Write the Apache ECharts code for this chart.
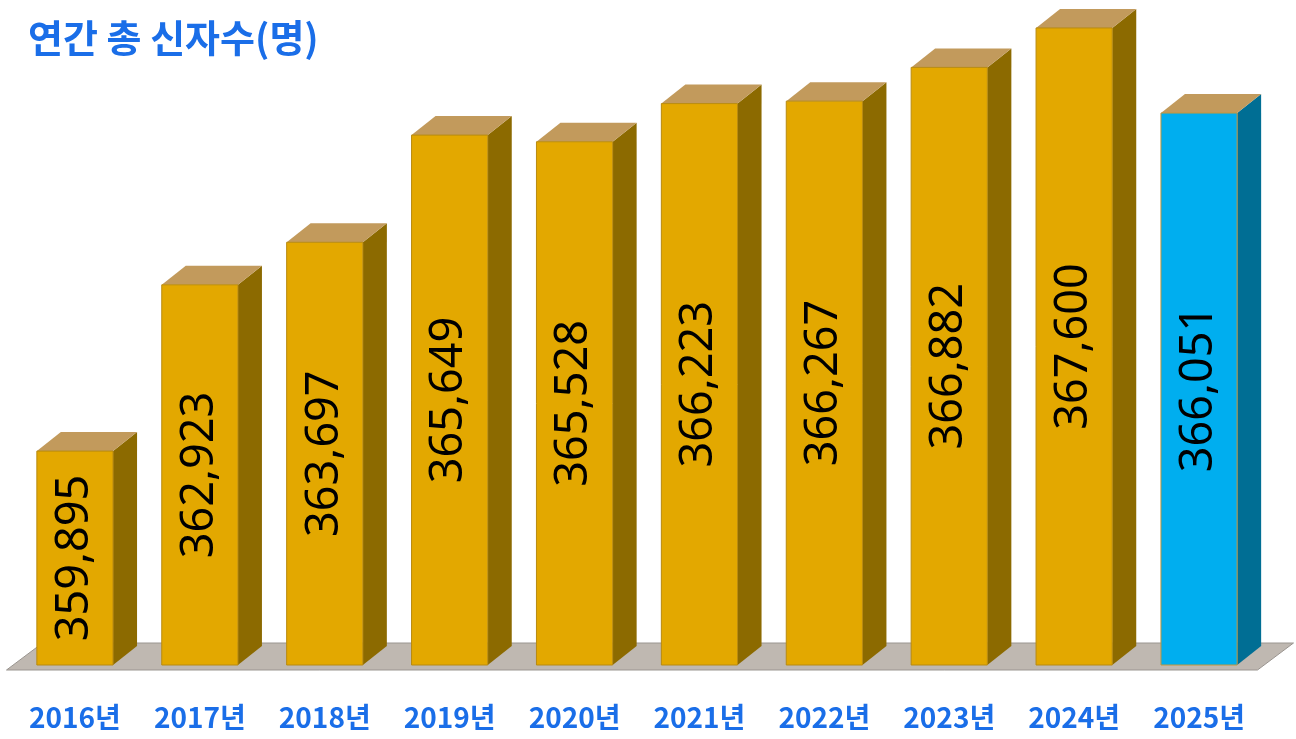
<!DOCTYPE html>
<html>
<head>
<meta charset="utf-8">
<script src="https://cdn.jsdelivr.net/npm/echarts@6/dist/echarts.min.js"></script>
<style>
  html, body { margin: 0; padding: 0; background: #fff; }
  #chart { width: 1296px; height: 739px; }
</style>
</head>
<body>
<div id="chart"></div>
<script>
const years = ['2016년', '2017년', '2018년', '2019년', '2020년', '2021년', '2022년', '2023년', '2024년', '2025년'];
const believers = [359895, 362923, 363697, 365649, 365528, 366223, 366267, 366882, 367600, 366051];
const highlightYear = '2025년';

const AXIS_MIN = 356000;
const DEPTH_X = 24, DEPTH_Y = 19;

const gold = { front: '#e3a800', side: '#8c6a00', top: '#c29a5c', stroke: '#b88a10' };
const blue = { front: '#00aeef', side: '#006e94', top: '#c29a5c', stroke: '#c2963c' };

function fmt(n) {
    return String(n).replace(/\B(?=(\d{3})+(?!\d))/g, ',');
}

function renderBar(params, api) {
    const idx = api.value(0);
    const val = api.value(1);
    const top = api.coord([idx, val]);
    const base = api.coord([idx, AXIS_MIN]);
    const w = api.size([1, 0])[0] * 0.61;
    const x0 = top[0] - w / 2, x1 = top[0] + w / 2;
    const y0 = top[1], y1 = base[1];
    const c = years[idx] === highlightYear ? blue : gold;
    const children = [];

    if (params.dataIndex === 0) {
        // floor plate
        const cs = params.coordSys;
        const fy = y1 + 5;
        const fl = cs.x - 6, fr = cs.x + cs.width - 4;
        children.push({
            type: 'polygon',
            shape: { points: [[fl, fy], [fr, fy], [fr + 36, fy - 27], [fl + 36, fy - 27]] },
            style: { fill: '#bfb8b1', stroke: '#9a9590', lineWidth: 1 }
        });
    }

    children.push({
        type: 'polygon',
        shape: { points: [[x1, y0], [x1 + DEPTH_X, y0 - DEPTH_Y], [x1 + DEPTH_X, y1 - DEPTH_Y], [x1, y1]] },
        style: { fill: c.side }
    });
    children.push({
        type: 'polygon',
        shape: { points: [[x0, y0], [x1, y0], [x1 + DEPTH_X, y0 - DEPTH_Y], [x0 + DEPTH_X, y0 - DEPTH_Y]] },
        style: { fill: c.top }
    });
    children.push({
        type: 'rect',
        shape: { x: x0, y: y0, width: w, height: y1 - y0 },
        style: { fill: c.front, stroke: c.stroke, lineWidth: 1 }
    });
    children.push({
        type: 'text',
        x: top[0],
        y: (y0 + y1) / 2,
        rotation: Math.PI / 2,
        style: {
            text: fmt(val),
            fill: '#000',
            font: '45px "Noto Sans"',
            align: 'center',
            verticalAlign: 'middle'
        }
    });
    return { type: 'group', children: children };
}

const chart = echarts.init(document.getElementById('chart'));
chart.setOption({
    animation: false,
    title: {
        text: '연간 총 신자수(명)',
        left: 28,
        top: 19,
        padding: 0,
        textStyle: {
            fontFamily: 'Noto Sans CJK KR',
            fontWeight: 'bold',
            fontSize: 38,
            color: '#1a6ee8'
        }
    },
    grid: { left: 12.5, right: 34.5, top: 6, bottom: 74 },
    xAxis: {
        type: 'category',
        data: years,
        axisLine: { show: false },
        axisTick: { show: false },
        axisLabel: {
            margin: 38,
            fontFamily: 'Noto Sans CJK KR',
            fontWeight: 'bold',
            fontSize: 28,
            color: '#1a6ee8'
        }
    },
    yAxis: {
        type: 'value',
        min: AXIS_MIN,
        max: 368000,
        show: false,
        splitLine: { show: false }
    },
    series: [{
        type: 'custom',
        renderItem: renderBar,
        data: believers.map((v, i) => [i, v]),
        encode: { x: 0, y: 1 }
    }]
});
</script>
</body>
</html>
